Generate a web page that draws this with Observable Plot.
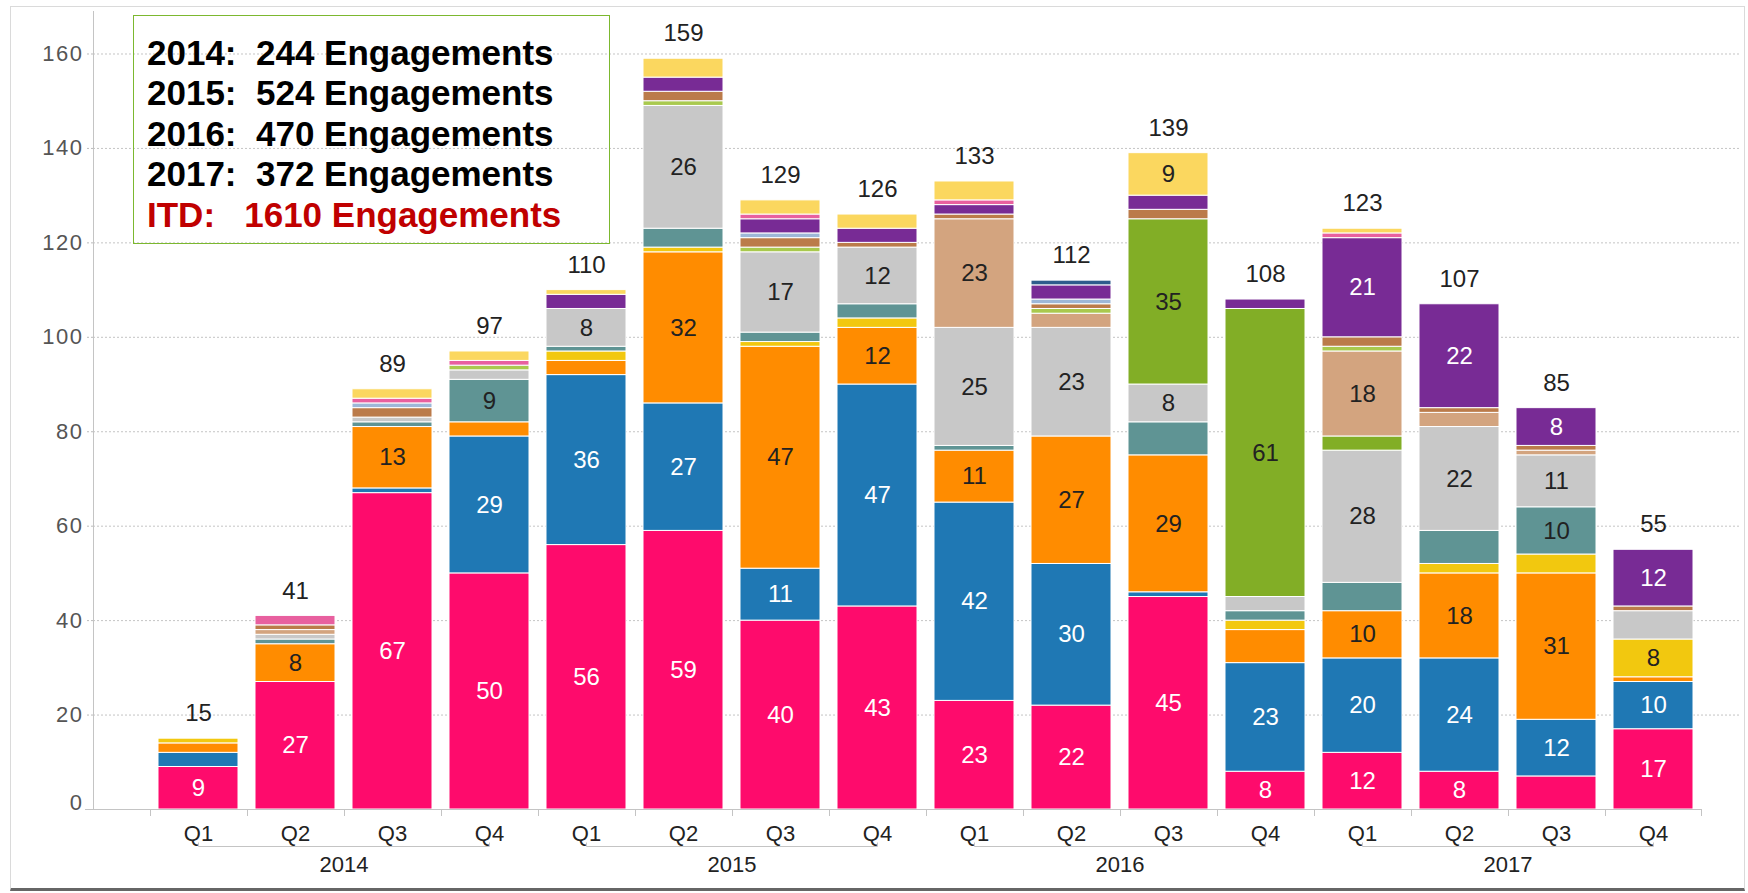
<!DOCTYPE html>
<html>
<head>
<meta charset="utf-8">
<script src="https://cdn.jsdelivr.net/npm/d3@7"></script>
<script src="https://cdn.jsdelivr.net/npm/@observablehq/plot@0.6"></script>
<style>
html, body { margin: 0; padding: 0; background: #fff; }
#wrap { position: relative; width: 1748px; height: 893px; overflow: hidden; font-family: "Liberation Sans", Arial, sans-serif; }
#chart { position: absolute; left: 0; top: 0; }
#border { position: absolute; left: 10px; top: 6px; right: 3px; bottom: 2px; border: 1px solid #dadada; border-bottom: 3px solid #666; pointer-events: none; }
#legend { position: absolute; left: 133px; top: 15px; width: 477px; height: 229px; border: 1.5px solid #7cb82f; box-sizing: border-box; padding: 17px 0 0 13px; }
#legend div { font-weight: bold; font-size: 35px; line-height: 40.4px; white-space: pre; color: #000; }
#legend div.itd { color: #c00000; }
</style>
</head>
<body>
<div id="wrap">
  <div id="chart"></div>
  <div id="border"></div>
  <div id="legend"></div>
</div>
<script>
// ---- data ----
const quarters = ["Q1", "Q2", "Q3", "Q4"];
const years = ["2014", "2015", "2016", "2017"];
const bars = years.flatMap(y => quarters.map(q => `${y} ${q}`));

const seriesNames = ["Pink", "Blue", "Orange", "Gold", "Teal", "Grey", "Olive", "Tan", "Light green", "Brown", "Light blue", "Purple", "Rose", "Light yellow", "Dark blue"];
const seriesColors = ["#fe0b6c", "#1f78b4", "#ff8c00", "#f2c80f", "#5f9494", "#c8c8c8", "#82ae26", "#d3a47f", "#a9c94e", "#bb7b4a", "#9db7d8", "#782b95", "#e8609f", "#fbd75f", "#2f5d8c"];

//                 2014 Q1..Q4     2015 Q1..Q4       2016 Q1..Q4       2017 Q1..Q4
const pink       = [9, 27, 67, 50,  56, 59, 40, 43,  23, 22, 45, 8,    12, 8, 7, 17];
const blue       = [3, 0, 1, 29,    36, 27, 11, 47,  42, 30, 1, 23,    20, 24, 12, 10];
const orange     = [2, 8, 13, 3,    3, 32, 47, 12,   11, 27, 29, 7,    10, 18, 31, 1];
const gold       = [1, 0, 0, 0,     2, 1, 1, 2,      0, 0, 0, 2,       0, 2, 4, 8];
const teal       = [0, 1, 1, 9,     1, 4, 2, 3,      1, 0, 7, 2,       6, 7, 10, 0];
const grey       = [0, 1, 1, 2,     8, 26, 17, 12,   25, 23, 8, 3,     28, 22, 11, 6];
const olive      = [0, 0, 0, 0,     0, 0, 0, 0,      0, 0, 35, 61,     3, 0, 0, 0];
const tan        = [0, 1, 0, 0,     0, 0, 0, 0,      23, 3, 0, 0,      18, 3, 1, 0];
const lightGreen = [0, 0, 0, 1,     0, 1, 1, 0,      0, 1, 0, 0,       1, 0, 0, 0];
const brown      = [0, 1, 2, 0,     0, 2, 2, 1,      1, 1, 2, 0,       2, 1, 1, 1];
const lightBlue  = [0, 0, 1, 0,     0, 0, 1, 0,      0, 1, 0, 0,       0, 0, 0, 0];
const purple     = [0, 0, 0, 0,     3, 3, 3, 3,      2, 3, 3, 2,       21, 22, 8, 12];
const rose       = [0, 2, 1, 1,     0, 0, 1, 0,      1, 0, 0, 0,       1, 0, 0, 0];
const lightYellow= [0, 0, 2, 2,     1, 4, 3, 3,      4, 0, 9, 0,       1, 0, 0, 0];
const darkBlue   = [0, 0, 0, 0,     0, 0, 0, 0,      0, 1, 0, 0,       0, 0, 0, 0];

const totals = [15, 41, 89, 97, 110, 159, 129, 126, 133, 112, 139, 108, 123, 107, 85, 55];
const yTicks = [0, 20, 40, 60, 80, 100, 120, 140, 160];

const legendLines = [
  "2014:  244 Engagements",
  "2015:  524 Engagements",
  "2016:  470 Engagements",
  "2017:  372 Engagements",
  "ITD:   1610 Engagements"
];

const whiteTextSeries = new Set(["Pink", "Blue", "Purple"]);

// ---- build table ----
const seriesValues = [pink, blue, orange, gold, teal, grey, olive, tan, lightGreen, brown, lightBlue, purple, rose, lightYellow, darkBlue];
const rows = [];
seriesNames.forEach((s, si) => {
  seriesValues[si].forEach((v, bi) => {
    if (v > 0) rows.push({bar: bars[bi], series: s, value: v});
  });
});

const xRange = [149, 1703];
const step = (xRange[1] - xRange[0]) / bars.length;
const FONT = "'Liberation Sans', Arial, sans-serif";

const plot = Plot.plot({
  width: 1748,
  height: 893,
  marginLeft: 93,
  marginRight: 8,
  marginTop: 11,
  marginBottom: 84,
  style: {fontFamily: FONT, fontSize: "22px", color: "#444", background: "transparent", overflow: "visible"},
  x: {type: "band", domain: bars, range: xRange, paddingInner: 0.175, paddingOuter: 0.0875,
      label: null, tickSize: 0, tickPadding: 16, tickFormat: d => d.split(" ")[1]},
  y: {domain: [0, 169], ticks: yTicks, label: null, tickSize: 8, tickPadding: 2},
  color: {domain: seriesNames, range: seriesColors},
  marks: [
    Plot.ruleY(yTicks.filter(t => t > 0), {stroke: "#c4c4c4", strokeDasharray: "2,2"}),
    Plot.barY(rows, {x: "bar", y: "value", fill: "series", stroke: "white", strokeWidth: 1}),
    Plot.text(rows, Plot.stackY({x: "bar", y: "value",
      text: d => (whiteTextSeries.has(d.series) && d.value >= 8) ? String(d.value) : "",
      fill: "#ffffff", fontSize: 24})),
    Plot.text(rows, Plot.stackY({x: "bar", y: "value",
      text: d => (!whiteTextSeries.has(d.series) && d.value >= 8) ? String(d.value) : "",
      fill: "#222222", fontSize: 24})),
    Plot.text(totals, {x: (d, i) => bars[i], y: d => d, text: d => String(d), dy: -25, fill: "#222", fontSize: 24}),
    Plot.text(years, {x: d => d + " Q2", y: d => 0, dx: step / 2, dy: 55, text: d => d, fill: "#222", fontSize: 22})
  ]
});

document.getElementById("chart").appendChild(plot);

// axis decorations drawn with the plot's own scales
const sx = plot.scale("x");
const sy = plot.scale("y");
const bw = sx.bandwidth;
const y0 = sy.apply(0);
const svg = d3.select(plot);

// tick marks colour / label style
svg.selectAll("g[aria-label='y-axis tick'] path, g[aria-label='y-axis'] .tick line").attr("stroke", "#bbb").attr("stroke-dasharray", "2,2");
svg.selectAll("g[aria-label='y-axis tick label'] text, g[aria-label='y-axis'] .tick text")
  .attr("fill", "#555").style("letter-spacing", "1.5px")
  .each(function() { if (this.textContent === "0") d3.select(this).attr("dy", "-0.32em"); });
svg.selectAll("g[aria-label='x-axis tick label'] text, g[aria-label='x-axis'] .tick text").attr("fill", "#222");

const deco = svg.append("g").attr("fill", "none").attr("stroke", "#c4c4c4").attr("stroke-width", 1);
// vertical y axis line
deco.append("line").attr("x1", 93.5).attr("x2", 93.5).attr("y1", sy.apply(169)).attr("y2", y0);
// baseline
const lastEnd = sx.apply(bars[bars.length - 1]) + bw + step * 0.0875;
deco.append("line").attr("x1", 85).attr("x2", lastEnd).attr("y1", y0 + 0.5).attr("y2", y0 + 0.5);
// boundary ticks
bars.forEach(b => {
  const xb = Math.round(sx.apply(b) - step * 0.0875) + 0.5;
  deco.append("line").attr("x1", xb).attr("x2", xb).attr("y1", y0).attr("y2", y0 + 7);
});
deco.append("line").attr("x1", Math.round(lastEnd) + 0.5).attr("x2", Math.round(lastEnd) + 0.5).attr("y1", y0).attr("y2", y0 + 7);
// year brackets
years.forEach(yr => {
  const x1 = Math.round(sx.apply(yr + " Q1") + bw / 2) + 0.5;
  const x2 = Math.round(sx.apply(yr + " Q4") + bw / 2) + 0.5;
  const yb = Math.round(y0 + 37) + 0.5;
  deco.append("path").attr("d", `M${x1},${yb - 4}V${yb}H${x2}V${yb - 4}`);
});

// legend box text
const legend = document.getElementById("legend");
legendLines.forEach((t, i) => {
  const d = document.createElement("div");
  d.textContent = t;
  if (i === legendLines.length - 1) d.className = "itd";
  legend.appendChild(d);
});
</script>
</body>
</html>
